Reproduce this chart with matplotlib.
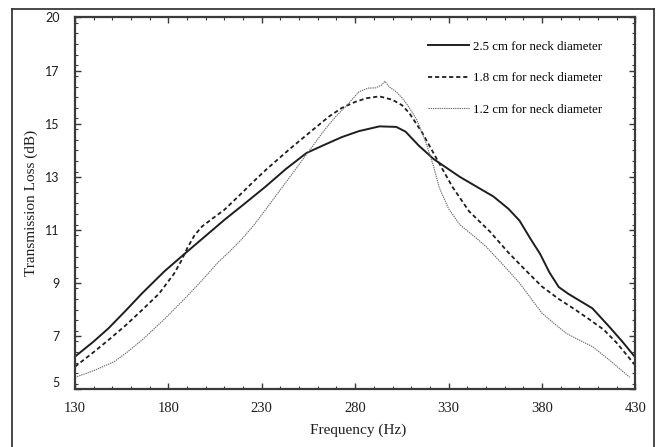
import matplotlib
matplotlib.use("Agg")
import matplotlib.pyplot as plt
from matplotlib.lines import Line2D
from matplotlib.ticker import MultipleLocator, FixedLocator, FixedFormatter
from matplotlib.transforms import ScaledTranslation

# neck diameter 2.5 cm (solid)
freq_25 = [130, 140, 148, 157, 166, 178, 189, 200, 210, 221, 232, 243, 254, 264,
           273, 282, 293, 302, 307, 314, 322, 336, 354, 362, 368, 374, 379, 384,
           389, 394, 398, 407, 416, 423, 430]
tl_25 = [6.23, 6.8, 7.3, 7.95, 8.62, 9.45, 10.12, 10.78, 11.38, 12.0, 12.63, 13.3,
         13.9, 14.22, 14.5, 14.72, 14.9, 14.88, 14.7, 14.18, 13.67, 13.0, 12.26,
         11.8, 11.35, 10.65, 10.1, 9.4, 8.85, 8.6, 8.43, 8.05, 7.36, 6.8, 6.2]

# neck diameter 1.8 cm (dashed)
freq_18 = [130, 140, 148, 157, 166, 175, 183, 187, 190, 194, 198, 204, 210, 218,
           226, 232, 245, 257, 266, 273, 280, 286, 293, 300, 305, 309, 316, 323,
           332, 341, 352, 362, 371, 380, 389, 398, 405, 413, 420, 430]
tl_18 = [5.85, 6.4, 6.86, 7.4, 7.99, 8.6, 9.35, 9.85, 10.3, 10.8, 11.13, 11.45,
         11.76, 12.3, 12.85, 13.25, 14.05, 14.75, 15.27, 15.6, 15.82, 15.96, 16.03,
         15.9, 15.7, 15.4, 14.65, 13.76, 12.63, 11.7, 10.95, 10.15, 9.5, 8.87, 8.4,
         7.99, 7.65, 7.25, 6.75, 5.9]

# neck diameter 1.2 cm (dotted)
freq_12 = [130, 140, 151, 158, 166, 178, 189, 198, 207, 213, 219, 226, 232, 243,
           254, 264, 270, 275, 282, 287, 291, 294, 296, 298, 302, 306, 309, 313,
           318, 322, 325, 330, 336, 343, 350, 359, 368, 380, 387, 393, 400, 407,
           417, 427]
tl_12 = [5.45, 5.7, 6.04, 6.4, 6.86, 7.65, 8.43, 9.1, 9.81, 10.2, 10.63, 11.2,
         11.76, 12.8, 13.85, 14.8, 15.3, 15.65, 16.2, 16.34, 16.35, 16.45, 16.6,
         16.4, 16.2, 15.9, 15.6, 15.15, 14.27, 13.39, 12.6, 11.8, 11.2, 10.8, 10.38,
         9.7, 9.0, 7.87, 7.45, 7.11, 6.85, 6.61, 6.05, 5.45]

labels = ["2.5 cm for neck diameter", "1.8 cm for neck diameter",
          "1.2 cm for neck diameter"]

x_ticks = [130, 180, 230, 280, 330, 380, 430]
y_ticks = [5, 7, 9, 11, 13, 15, 17, 19]
y_tick_labels = ["5", "7", "9", "11", "13", "15", "17", "20"]

SERIF = ["Liberation Serif", "DejaVu Serif"]
INK = "#1e1e1e"
AXC = "#3a3a3a"

fig = plt.figure(figsize=(6.56, 4.47), dpi=100, facecolor="white")
ax = fig.add_axes([0.1143, 0.1291, 0.8542, 0.8318])

ax.plot(freq_25, tl_25, color=INK, lw=1.4, ls="-", label=labels[0])
ax.plot(freq_18, tl_18, color=INK, lw=1.3, ls=(0, (2.3, 1.6)), label=labels[1])
ax.plot(freq_12, tl_12, color="#6a6a6a", lw=0.8, ls=(0, (1.2, 0.8)), label=labels[2])

ax.set_xlim(130, 430)
ax.set_ylim(5, 19)
ax.xaxis.set_major_locator(FixedLocator(x_ticks))
ax.xaxis.set_minor_locator(MultipleLocator(10))
ax.yaxis.set_major_locator(FixedLocator(y_ticks))
ax.yaxis.set_major_formatter(FixedFormatter(y_tick_labels))
ax.yaxis.set_minor_locator(MultipleLocator(0.4))

ax.tick_params(which="both", direction="in", top=True, right=True, color=AXC)
ax.tick_params(which="major", length=4.5, width=1.0)
ax.tick_params(which="minor", length=2.5, width=0.8)
ax.tick_params(axis="x", which="major", pad=9, labelsize=10.5, labelcolor=INK)
ax.tick_params(axis="y", which="major", pad=11, labelsize=9, labelcolor=INK)
for lbl in ax.get_xticklabels():
    lbl.set_fontfamily(SERIF)
for lbl in ax.get_yticklabels():
    lbl.set_fontfamily(["Lato", "DejaVu Sans"])

for sp in ax.spines.values():
    sp.set_color(AXC)
    sp.set_linewidth(1.6)

# the bottom "5" label sits a little above its tick in the original
t0 = ax.yaxis.get_major_ticks()[0]
t0.label1.set_transform(t0.label1.get_transform()
                        + ScaledTranslation(0, 7 / 100, fig.dpi_scale_trans))

ax.set_xlabel("Frequency (Hz)", fontsize=11, family=SERIF, color=INK)
ax.set_ylabel("Transmission Loss (dB)", fontsize=11, family=SERIF, color=INK)
ax.xaxis.set_label_coords(0.505, -0.093)
ax.yaxis.set_label_coords(-0.066, 0.5)

ax.legend(loc="upper right", bbox_to_anchor=(0.9406, 0.937), frameon=False,
          prop={"family": SERIF, "size": 9.3}, handlelength=3.2,
          handletextpad=0.3, labelspacing=1.5, borderpad=0, borderaxespad=0)

# thin frame around the whole picture
for xs, ys in [((12, 12), (-5, 9)), ((12, 654), (9, 9)), ((654, 654), (9, -5))]:
    fig.add_artist(Line2D([x / 656 for x in xs],
                          [1 - y / 447 if y >= 0 else 0 for y in ys],
                          color="#2a2a2a", lw=1.2, transform=fig.transFigure))

fig.savefig("out.png", dpi=100, facecolor="white")
